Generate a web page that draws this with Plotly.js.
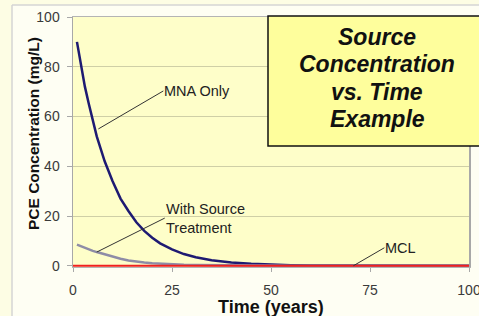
<!DOCTYPE html>
<html>
<head>
<meta charset="utf-8">
<script src="https://cdn.plot.ly/plotly-3.0.1.min.js"></script>
<style>html,body{margin:0;padding:0;background:#fefef3;}#chart{width:479px;height:316px;}</style>
</head>
<body>
<div id="chart"></div>
<script>
// Data
const years = [1,2,3,4,5,6,7,8,10,12,14,16,18,20,22,25,28,31,35,40,45,50,55,60,70,80,90,100];
const mnaOnly = [90,81,72,65,58,52,47,42,34,27,22,17.5,14,11.3,9,6.6,4.7,3.4,2.2,1.3,0.8,0.4,0.25,0.15,0.05,0.02,0.01,0];
const withTreatment = [8.5,7.8,7.1,6.5,6.0,5.5,5.0,4.5,3.6,2.8,2.1,1.6,1.3,1.0,0.8,0.6,0.45,0.35,0.25,0.15,0.1,0.07,0.05,0.03,0.02,0.01,0.01,0];
const mclYears = [0,100];
const mclValues = [0.005,0.005];
const xTicks = [0,25,50,75,100];
const yTicks = [0,20,40,60,80,100];
const seriesNames = ['MNA Only','With Source<br>Treatment','MCL'];
const titleLines = ['Source','Concentration','vs. Time','Example'];

const FONT = 'Liberation Sans, Arial, sans-serif';

const traces = [
  {x: years, y: mnaOnly, mode: 'lines', line: {color: '#1e1a72', width: 2.5}, name: 'MNA Only'},
  {x: years, y: withTreatment, mode: 'lines', line: {color: '#8e8ca6', width: 2.5}, name: 'With Source Treatment'},
  {x: mclYears, y: mclValues, mode: 'lines', line: {color: '#f02020', width: 2}, name: 'MCL'}
];

const W = 396, H = 250, L = 73, T = 17;
const px = v => (v - L) / W;
const py = v => (T + H - v) / H;

const annotations = [
  {x: 6.4, y: 55, text: seriesNames[0], showarrow: true, arrowhead: 0, arrowwidth: 1, arrowcolor: '#333',
   ax: 65, ay: -38, xanchor: 'left', yanchor: 'middle', font: {size: 14.5, color: '#222'}, borderpad: 0},
  {x: 6.0, y: 5.5, text: seriesNames[1], showarrow: true, arrowhead: 0, arrowwidth: 1, arrowcolor: '#333',
   ax: 68, ay: -34, xanchor: 'left', yanchor: 'middle', align: 'left', font: {size: 14.5, color: '#222'}, borderpad: 0},
  {x: 70.8, y: 0, text: seriesNames[2], showarrow: true, arrowhead: 0, arrowwidth: 1, arrowcolor: '#333',
   ax: 31, ay: -18, xanchor: 'left', yanchor: 'middle', font: {size: 14.5, color: '#222'}, borderpad: 0},
  {xref: 'paper', yref: 'paper', x: px(271), y: py(306.5), text: '<b>Time (years)</b>', showarrow: false,
   font: {size: 18, color: '#111'}, xanchor: 'center', yanchor: 'middle'},
  {xref: 'paper', yref: 'paper', x: px(33), y: py(134), text: '<b>PCE Concentration (mg/L)</b>', showarrow: false,
   textangle: -90, font: {size: 15.5, color: '#111'}, xanchor: 'center', yanchor: 'middle'}
];
const lineCenters = [37, 64, 91.5, 118.5];
titleLines.forEach((t, i) => {
  annotations.push({xref: 'paper', yref: 'paper', x: px(377), y: py(lineCenters[i]),
    text: '<b><i>' + t + '</i></b>', showarrow: false,
    font: {size: 23, color: '#111', family: FONT}, xanchor: 'center', yanchor: 'middle'});
});

const layout = {
  width: 479, height: 316,
  margin: {l: 73, r: 10, t: 17, b: 49},
  paper_bgcolor: '#fefef3',
  plot_bgcolor: '#fefec9',
  showlegend: false,
  font: {family: FONT, color: '#333'},
  xaxis: {
    range: [0, 100], tickvals: xTicks, ticks: 'outside', ticklen: 4, tickcolor: '#a8a8a8',
    showgrid: false, zeroline: false, showline: true, mirror: true, linecolor: '#b4b4b4', linewidth: 1,
    layer: 'below traces', tickfont: {size: 14, color: '#3a3a3a'}, ticklabelstandoff: 6,
    ticklabeloverflow: 'allow'
  },
  yaxis: {
    range: [-0.5, 100], tickvals: yTicks, ticks: 'outside', ticklen: 5, tickcolor: '#a8a8a8',
    showgrid: true, gridcolor: '#cfcfa6', gridwidth: 1, zeroline: false,
    showline: true, mirror: true, linecolor: '#a8a8a8', linewidth: 1.5,
    layer: 'below traces', tickfont: {size: 14, color: '#3a3a3a'}, ticklabelstandoff: 4
  },
  shapes: [
    {type: 'rect', xref: 'paper', yref: 'paper', x0: px(-20), x1: px(12), y0: py(400), y1: py(-20), fillcolor: '#fdfde4', line: {width: 0}, layer: 'below'},
    {type: 'rect', xref: 'paper', yref: 'paper', x0: px(-20), x1: px(500), y0: py(5), y1: py(-20), fillcolor: '#fdfde4', line: {width: 0}, layer: 'below'},
    {type: 'line', xref: 'paper', yref: 'paper', x0: px(12), x1: px(12), y0: py(5), y1: py(400), line: {color: '#d4d4d4', width: 1.5}, layer: 'below'},
    {type: 'line', xref: 'paper', yref: 'paper', x0: px(12), x1: px(500), y0: py(5), y1: py(5), line: {color: '#d4d4d4', width: 1.5}, layer: 'below'},
    {type: 'rect', xref: 'paper', yref: 'paper', x0: px(268), x1: px(488), y0: py(146), y1: py(16), fillcolor: '#fefe9c', line: {color: '#111', width: 1.5}, layer: 'above'}
  ],
  annotations: annotations
};

Plotly.newPlot('chart', traces, layout, {staticPlot: true, displayModeBar: false});
</script>
</body>
</html>
